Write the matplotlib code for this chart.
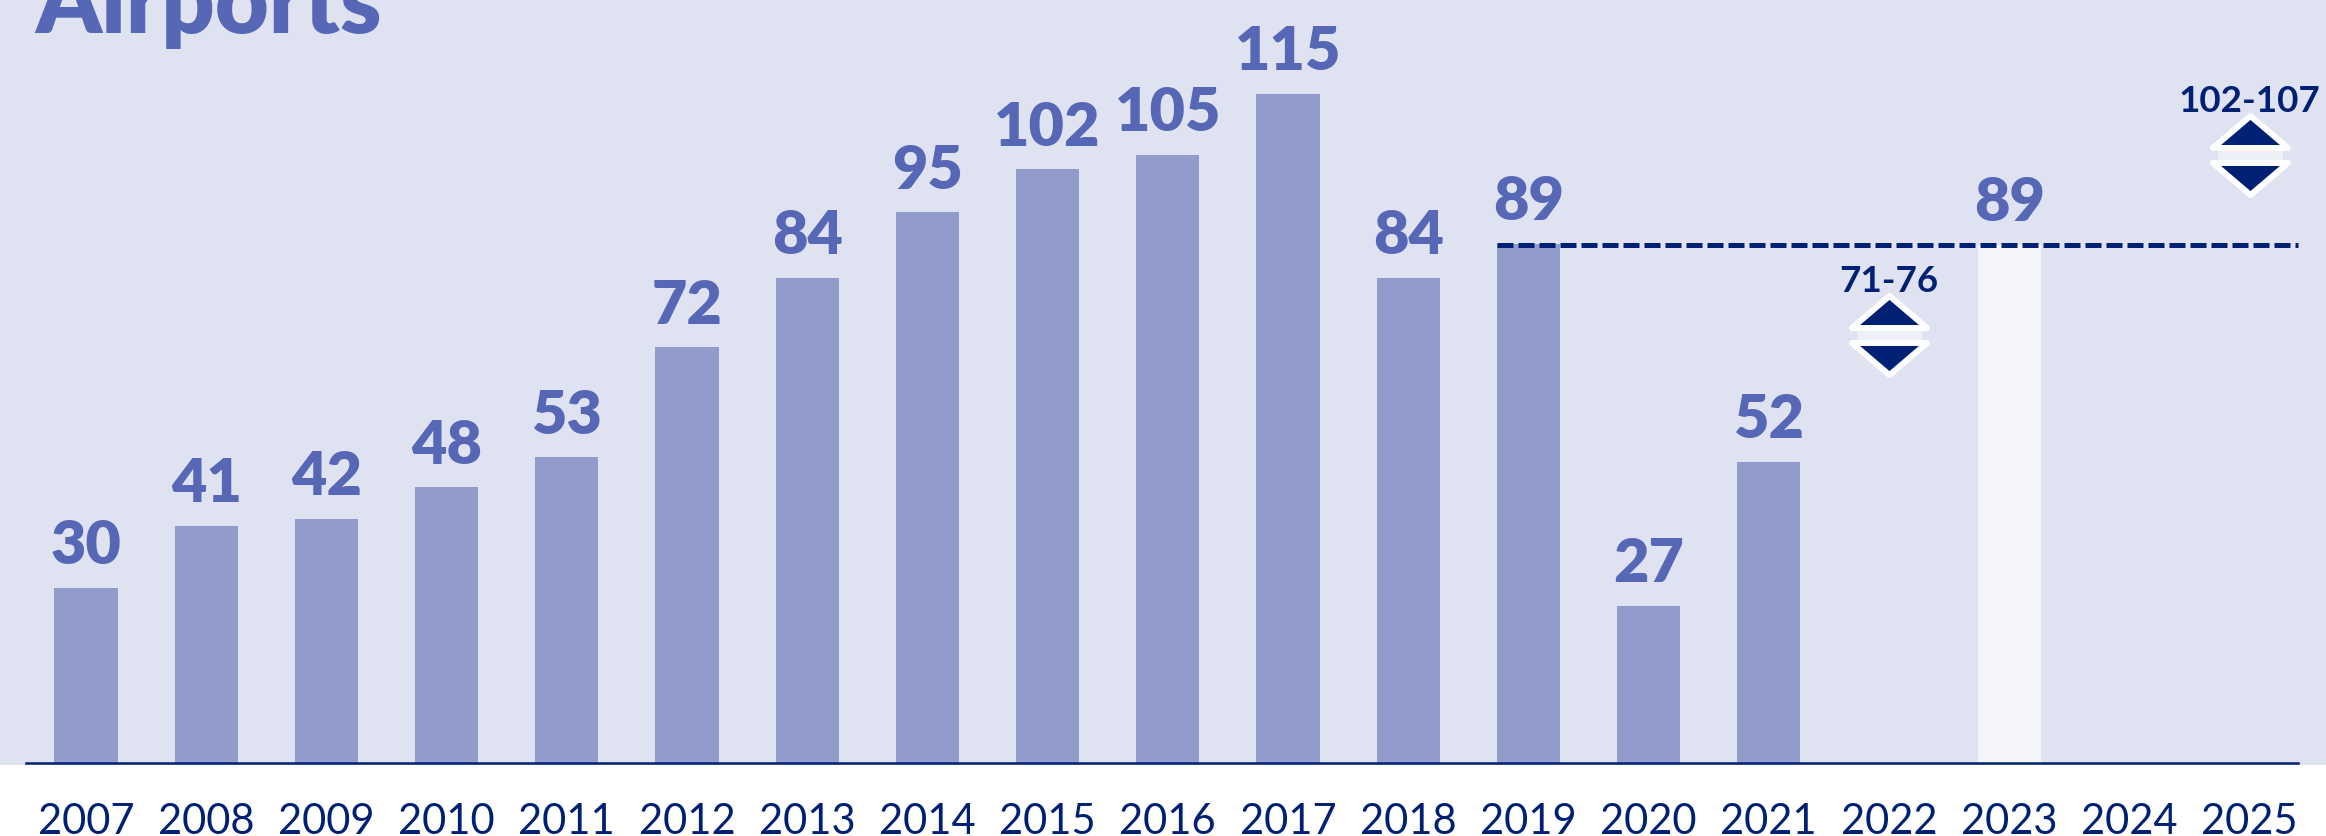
#!/usr/bin/env python3

import matplotlib
matplotlib.use("Agg")
import matplotlib.pyplot as plt
from matplotlib.markers import MarkerStyle
from matplotlib.path import Path

years = list(range(2007, 2026))
bar_years = [2007, 2008, 2009, 2010, 2011, 2012, 2013, 2014, 2015, 2016,
             2017, 2018, 2019, 2020, 2021]
bar_labels = [30, 41, 42, 48, 53, 72, 84, 95, 102, 105, 115, 84, 89, 27, 52]
# heights as measured off the bars, they differ a little from the printed labels
bar_heights = [30.1, 40.8, 42, 47.4, 52.5, 71.4, 83.4, 94.6, 102, 104.5,
               115, 83.4, 89.2, 27, 51.7]
ref_year = 2023
ref_value = 89
range_years = [2022, 2025]
range_low = [71, 102]
range_high = [76, 107]

BG = "#DFE2F1"
BAR = "#929CCC"
LABEL = "#5667B5"
NAVY = "#002074"
W, H = 2326, 836
DPI = 100

plt.rcParams["font.family"] = ["Lato", "DejaVu Sans"]

fig = plt.figure(figsize=(W / DPI, H / DPI), dpi=DPI, facecolor="white")
ax = fig.add_axes([0, 1 - 765 / H, 1, 765 / H], facecolor=BG)

px_year = 120.2
px_unit = 5.82
ax.set_xlim(2007 - 86 / px_year, 2007 + (W - 86) / px_year)
ax.set_ylim(-2 / px_unit, 763 / px_unit)

ax.bar(bar_years, bar_heights, width=0.525, color=BAR, zorder=2)
ax.bar([ref_year], [ref_value], width=0.525, color="#F4F5FA", zorder=2)

for x, h, v in zip(bar_years + [ref_year], bar_heights + [ref_value],
                   bar_labels + [ref_value]):
    ax.annotate(str(v), (x, h), xytext=(0, 17), textcoords="offset points",
                ha="center", va="baseline", fontsize=44, fontweight="heavy",
                color=LABEL)

# dashed reference from the 2019 bar to the right edge
ax.plot([2018.74, 2025.40], [ref_value, ref_value], color=NAVY,
        lw=3.6, dashes=(3.2, 1.0), dash_capstyle="butt", zorder=3)

# baseline
ax.plot([2006.5, 2025.40], [0, 0], color=NAVY, lw=1.8, zorder=4, clip_on=False)

# up / down range markers
tri = Path([(-37.5, 7.5), (37.5, 7.5), (0, 39.5), (-37.5, 7.5),
            (-37.5, -7.5), (37.5, -7.5), (0, -39.5), (-37.5, -7.5)],
           [1, 2, 2, 79, 1, 2, 2, 79])
band = Path([(-32.5, -5), (32.5, -5), (32.5, 5), (-32.5, 5), (-32.5, -5)],
            [1, 2, 2, 2, 79])
tri_marker = MarkerStyle(tri, joinstyle="miter")
for x, lo, hi in zip(range_years, range_low, range_high):
    mid = (lo + hi) / 2
    ax.plot([x], [mid], marker=band, ms=46.8, mfc="#EEF0F7", mew=0, zorder=4)
    ax.plot([x], [mid], marker=tri_marker, ms=56.9, mfc=NAVY, mec="white",
            mew=4.3, zorder=5)
    ax.annotate(f"{lo}-{hi}", (x, mid), xytext=(0, 31),
                textcoords="offset points", ha="center", va="baseline",
                fontsize=26.5, fontweight="bold", color=NAVY, zorder=6)

ax.set_xticks(years)
ax.set_xticklabels([str(y) for y in years], fontsize=30, color=NAVY)
ax.tick_params(axis="x", length=0, pad=27)
ax.set_yticks([])
for s in ax.spines.values():
    s.set_visible(False)

# the title is cut by the top edge in the original too
fig.text(35 / W, 1 - 33 / H, "Airports", fontsize=67, fontweight="heavy",
         color=LABEL, ha="left", va="baseline")

fig.savefig("out.png", dpi=DPI)
